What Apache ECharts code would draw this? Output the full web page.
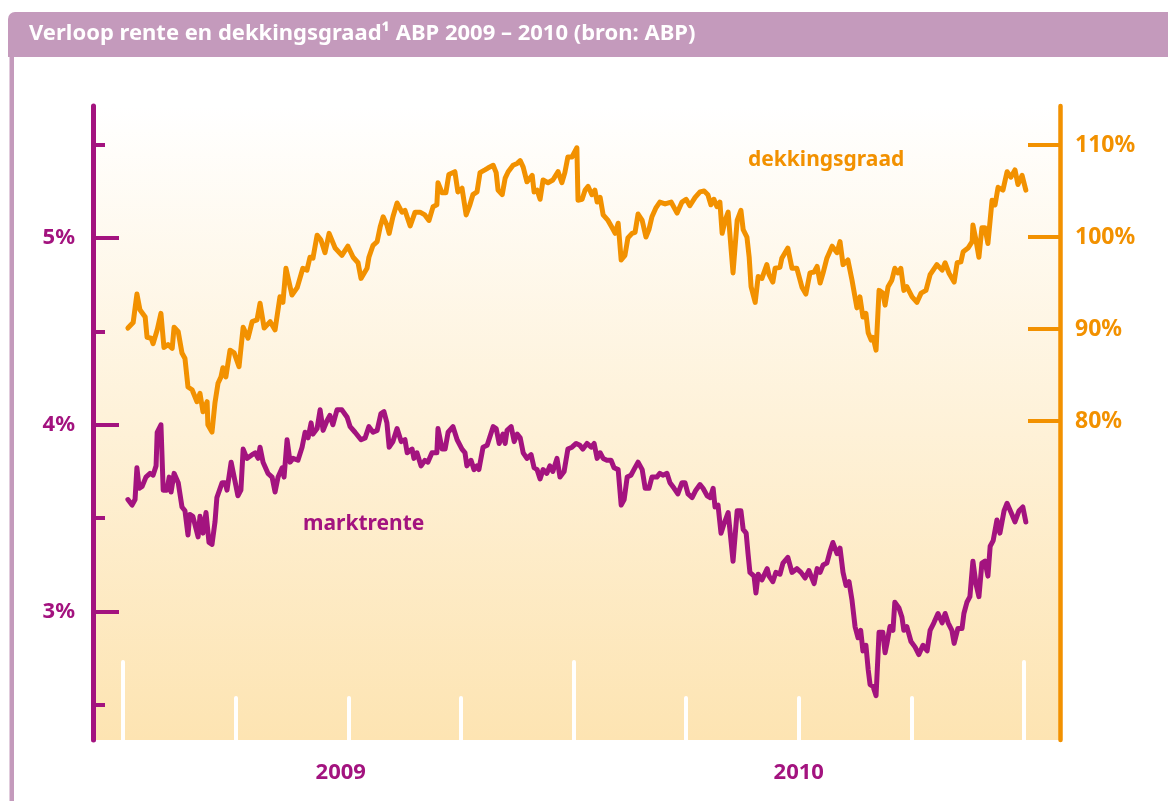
<!DOCTYPE html>
<html>
<head>
<meta charset="utf-8">
<title>Verloop rente en dekkingsgraad ABP 2009 - 2010</title>
<script src="https://cdn.jsdelivr.net/npm/echarts@6/dist/echarts.min.js"></script>
<style>
  html, body { margin: 0; padding: 0; background: #ffffff; }
  #chart { width: 1168px; height: 801px; }
</style>
</head>
<body>
<div id="chart"></div>
<script>
// x = maanden sinds 1 januari 2009
const dekkingMaanden = [
  0.13,0.27,0.37,0.45,0.59,0.64,0.75,0.80,0.91,1.01,
  1.09,1.20,1.31,1.36,1.47,1.57,1.65,1.73,1.84,1.97,
  2.05,2.13,2.24,2.26,2.37,2.45,2.53,2.61,2.66,2.74,
  2.85,2.96,3.09,3.20,3.33,3.44,3.57,3.65,3.76,3.92,
  4.05,4.18,4.26,4.34,4.50,4.64,4.74,4.79,4.90,4.98,
  5.06,5.17,5.27,5.38,5.49,5.65,5.83,5.99,6.13,6.26,
  6.34,6.50,6.55,6.66,6.77,6.85,6.93,7.03,7.09,7.19,
  7.30,7.43,7.51,7.65,7.78,7.91,8.04,8.15,8.26,8.36,
  8.39,8.50,8.60,8.68,8.84,8.92,9.03,9.14,9.24,9.32,
  9.43,9.51,9.64,9.72,9.86,9.94,9.99,10.10,10.18,10.26,
  10.39,10.50,10.58,10.66,10.76,10.90,10.95,11.03,11.11,11.19,
  11.32,11.45,11.59,11.69,11.77,11.85,11.96,12.09,12.12,12.23,
  12.31,12.39,12.49,12.57,12.63,12.71,12.79,12.92,13.03,13.11,
  13.19,13.27,13.37,13.45,13.56,13.64,13.72,13.83,13.93,14.01,
  14.09,14.20,14.30,14.44,14.60,14.76,14.89,15.00,15.10,15.24,
  15.37,15.48,15.58,15.66,15.74,15.82,15.90,15.96,16.04,16.12,
  16.20,16.25,16.36,16.46,16.52,16.62,16.68,16.73,16.84,16.92,
  17.02,17.15,17.21,17.31,17.37,17.50,17.55,17.71,17.82,17.95,
  18.09,18.19,18.30,18.41,18.49,18.57,18.65,18.75,18.89,19.02,
  19.10,19.18,19.31,19.42,19.55,19.63,19.71,19.79,19.85,19.93,
  19.98,20.06,20.14,20.24,20.30,20.38,20.48,20.56,20.64,20.72,
  20.80,20.88,21.02,21.15,21.26,21.39,21.50,21.68,21.82,21.90,
  22.00,22.14,22.22,22.32,22.38,22.51,22.62,22.64,22.72,22.80,
  22.88,22.96,23.04,23.15,23.23,23.31,23.44,23.55,23.65,23.76,
  23.84,23.95,24.05
];
const dekkingsgraad = [
  90.1,90.7,93.8,92.1,91.3,89.1,89.0,88.4,89.9,91.7,
  88.0,88.3,87.9,90.2,89.7,87.4,86.8,83.7,83.4,82.1,
  83.0,81.0,82.1,79.6,78.8,82.0,84.1,84.8,85.8,84.8,
  87.7,87.4,85.9,90.2,89.0,90.8,91.0,92.8,90.1,90.8,
  89.9,93.5,92.9,96.6,93.7,94.5,95.9,96.6,96.4,97.8,
  97.7,100.2,99.7,98.3,100.4,98.8,98.0,99.0,97.8,97.2,
  95.5,96.6,97.8,99.1,99.5,101.1,102.2,101.3,100.4,102.2,
  103.7,102.7,102.9,101.2,102.7,102.7,102.4,101.8,103.3,103.5,
  105.9,104.8,104.8,106.8,107.1,104.9,105.3,102.4,103.5,104.6,
  104.9,107.0,107.3,107.5,107.8,107.0,105.1,104.6,106.4,107.1,
  107.8,108.0,108.3,107.6,106.0,106.7,104.9,105.1,104.1,106.2,
  105.9,106.2,107.1,105.9,107.0,108.7,108.7,109.7,104.0,104.1,
  105.1,105.5,104.6,105.1,103.8,104.3,102.4,101.8,101.0,100.4,
  101.5,97.5,98.0,99.9,100.4,100.5,102.5,101.8,100.0,100.8,
  102.2,103.2,103.8,103.6,103.8,102.6,103.8,104.1,103.4,104.3,
  104.9,105.0,104.6,103.5,104.1,103.3,103.8,100.4,101.8,102.7,
  98.6,96.1,101.8,102.9,100.8,100.0,97.8,94.6,92.9,95.7,
  95.5,97.0,95.9,95.1,96.6,96.7,97.7,98.8,96.6,96.6,
  94.5,93.8,96.1,96.2,96.8,95.0,96.1,97.7,99.0,98.3,
  99.5,97.0,97.5,95.3,92.3,93.5,91.3,91.7,89.6,88.8,
  89.1,87.7,94.2,93.9,92.6,94.6,95.3,96.6,96.1,96.6,
  94.2,94.6,93.5,92.9,93.9,94.2,95.9,97.0,96.4,97.2,
  96.1,95.1,97.2,97.3,98.4,98.8,99.5,101.3,99.7,97.8,
  101.0,101.0,99.3,104.0,103.5,105.4,105.1,107.1,106.5,107.3,
  105.7,106.7,105.1
];

const renteMaanden = [
  0.13,0.24,0.32,0.37,0.43,0.51,0.61,0.72,0.80,0.88,
  0.91,1.01,1.07,1.17,1.23,1.28,1.36,1.47,1.57,1.65,
  1.73,1.78,1.86,2.00,2.05,2.13,2.21,2.29,2.37,2.45,
  2.50,2.64,2.72,2.77,2.88,2.98,3.06,3.14,3.20,3.30,
  3.44,3.52,3.60,3.65,3.73,3.86,3.97,4.05,4.13,4.24,
  4.29,4.37,4.45,4.53,4.66,4.77,4.85,4.93,5.01,5.06,
  5.17,5.25,5.33,5.43,5.51,5.59,5.70,5.83,5.97,6.05,
  6.18,6.34,6.45,6.55,6.66,6.77,6.87,6.95,7.03,7.09,
  7.19,7.30,7.41,7.51,7.57,7.70,7.75,7.83,7.94,8.04,
  8.12,8.23,8.36,8.39,8.50,8.58,8.66,8.79,8.90,9.03,
  9.11,9.16,9.27,9.35,9.43,9.48,9.59,9.70,9.75,9.86,
  9.94,10.02,10.12,10.18,10.23,10.34,10.42,10.50,10.58,10.66,
  10.76,10.87,10.95,11.03,11.11,11.19,11.29,11.37,11.45,11.56,
  11.64,11.75,11.85,11.96,12.07,12.17,12.25,12.36,12.47,12.55,
  12.63,12.71,12.79,12.89,13.00,13.08,13.19,13.27,13.35,13.43,
  13.53,13.61,13.72,13.83,13.91,14.01,14.09,14.22,14.30,14.38,
  14.49,14.57,14.68,14.78,14.89,14.97,15.05,15.16,15.26,15.37,
  15.45,15.56,15.64,15.72,15.77,15.85,15.93,16.01,16.12,16.20,
  16.25,16.36,16.46,16.52,16.60,16.65,16.70,16.81,16.86,16.92,
  17.02,17.16,17.21,17.31,17.39,17.50,17.58,17.71,17.82,17.95,
  18.06,18.17,18.27,18.41,18.49,18.57,18.65,18.75,18.83,18.91,
  19.02,19.10,19.18,19.26,19.34,19.42,19.50,19.58,19.65,19.71,
  19.79,19.85,19.90,19.98,20.06,20.14,20.24,20.30,20.35,20.43,
  20.51,20.56,20.67,20.75,20.80,20.88,20.99,21.10,21.20,21.31,
  21.42,21.50,21.60,21.71,21.82,21.90,21.98,22.08,22.14,22.24,
  22.35,22.40,22.48,22.56,22.64,22.72,22.80,22.88,22.96,23.04,
  23.10,23.18,23.28,23.36,23.47,23.55,23.68,23.76,23.87,23.97,
  24.05
];
const marktrente = [
  3.60,3.57,3.60,3.77,3.66,3.67,3.72,3.74,3.73,3.78,
  3.96,4.00,3.65,3.65,3.72,3.64,3.74,3.69,3.56,3.54,
  3.41,3.52,3.51,3.40,3.51,3.42,3.53,3.37,3.36,3.48,
  3.61,3.69,3.69,3.65,3.80,3.70,3.62,3.65,3.87,3.82,
  3.84,3.85,3.82,3.88,3.80,3.74,3.72,3.64,3.72,3.77,
  3.72,3.92,3.80,3.82,3.81,3.88,3.96,3.93,4.01,3.95,
  3.98,4.08,3.97,4.02,4.05,4.00,4.08,4.08,4.04,3.99,
  3.96,3.92,3.93,3.99,3.96,3.97,4.06,4.07,4.01,3.88,
  3.91,3.98,3.91,3.92,3.85,3.87,3.82,3.85,3.78,3.81,
  3.80,3.85,3.85,3.98,3.87,3.87,3.96,3.99,3.92,3.87,
  3.85,3.78,3.81,3.76,3.78,3.76,3.88,3.89,3.88,3.99,
  3.98,3.90,3.95,3.90,3.97,3.99,3.91,3.95,3.93,3.85,
  3.82,3.84,3.77,3.76,3.71,3.76,3.74,3.78,3.75,3.82,
  3.72,3.75,3.87,3.88,3.90,3.89,3.87,3.90,3.88,3.90,
  3.82,3.85,3.82,3.81,3.81,3.77,3.76,3.57,3.60,3.72,
  3.73,3.76,3.80,3.76,3.66,3.66,3.72,3.72,3.74,3.73,
  3.74,3.69,3.66,3.63,3.69,3.69,3.63,3.61,3.65,3.68,
  3.66,3.62,3.61,3.66,3.56,3.57,3.42,3.47,3.53,3.37,
  3.27,3.54,3.54,3.44,3.42,3.31,3.21,3.19,3.10,3.20,
  3.17,3.23,3.19,3.16,3.21,3.20,3.26,3.29,3.21,3.23,
  3.21,3.18,3.22,3.15,3.23,3.21,3.25,3.26,3.32,3.37,
  3.31,3.34,3.21,3.14,3.16,3.06,2.92,2.86,2.90,2.79,
  2.82,2.69,2.61,2.60,2.55,2.89,2.89,2.78,2.83,2.92,
  2.90,3.05,3.02,2.97,2.90,2.92,2.84,2.81,2.77,2.82,
  2.79,2.90,2.94,2.99,2.94,2.99,2.94,2.90,2.83,2.91,
  2.91,2.99,3.05,3.08,3.27,3.15,3.08,3.26,3.27,3.19,
  3.35,3.38,3.49,3.42,3.54,3.58,3.52,3.48,3.54,3.56,
  3.48
];

// as-indeling
const jaarGrenzen = [0, 12, 24];
const kwartalen = [3, 6, 9, 15, 18, 21];
const jaarLabels = ['2009', '2010'];
const jaarLabelPos = [5.8, 18];
const renteLabels = [3, 4, 5];
const renteTussen = [2.5, 3.5, 4.5, 5.5];
const dekkingLabels = [80, 90, 100, 110];

const PAARS = '#a3137f';
const ORANJE = '#f29100';
const BALK = '#c49abc';
const FONT = '"Noto Sans", sans-serif';

const zip = (xs, ys) => xs.map((x, i) => [x, ys[i]]);

const chart = echarts.init(document.getElementById('chart'));

const xBasis = { type: 'value', min: -0.8, max: 24.96, position: 'bottom',
  axisLine: { show: false, onZero: false }, splitLine: { show: false } };
const yRente = { min: 2.313, max: 5.706 };

chart.setOption({
  animation: false,
  backgroundColor: '#ffffff',
  title: {
    text: 'Verloop rente en dekkingsgraad¹ ABP 2009 – 2010 (bron: ABP)',
    left: 29, top: 23,
    padding: 0,
    textStyle: { color: '#ffffff', fontFamily: FONT, fontWeight: 'bold', fontSize: 22 }
  },
  graphic: [
    { type: 'rect', z: -1, shape: { x: 8, y: 12, width: 1170, height: 45, r: [7, 0, 0, 0] },
      style: { fill: BALK } },
    { type: 'rect', z: -1, shape: { x: 9.5, y: 50, width: 4.5, height: 760 },
      style: { fill: BALK } },
    { type: 'text', x: 748, y: 160, z: 10,
      style: { text: 'dekkingsgraad', fill: ORANJE, font: 'bold 21px ' + FONT, verticalAlign: 'middle' } },
    { type: 'text', x: 303, y: 524, z: 10,
      style: { text: 'marktrente', fill: PAARS, font: 'bold 21px ' + FONT, verticalAlign: 'middle' } }
  ],
  grid: {
    left: 93, right: 108, top: 106, bottom: 61,
    show: true, borderWidth: 0,
    backgroundColor: {
      type: 'linear', x: 0, y: 0, x2: 0, y2: 1,
      colorStops: [
        { offset: 0, color: '#ffffff' },
        { offset: 1, color: '#fde4b2' }
      ]
    }
  },
  xAxis: [
    Object.assign({}, xBasis, {
      axisTick: { show: true, inside: true, length: 78, customValues: jaarGrenzen,
        lineStyle: { color: '#ffffff', width: 4, cap: 'round' } },
      axisLabel: { show: true, customValues: jaarLabelPos, margin: 22,
        color: PAARS, fontFamily: FONT, fontWeight: 'bold', fontSize: 22,
        formatter: (v) => jaarLabels[jaarLabelPos.indexOf(v)] }
    }),
    Object.assign({}, xBasis, {
      axisTick: { show: true, inside: true, length: 42, customValues: kwartalen,
        lineStyle: { color: '#ffffff', width: 4, cap: 'round' } },
      axisLabel: { show: false }
    })
  ],
  yAxis: [
    Object.assign({ type: 'value', position: 'left' }, yRente, {
      axisLine: { show: true, onZero: false, lineStyle: { color: PAARS, width: 5 } },
      axisTick: { show: true, inside: true, length: 26, customValues: renteLabels,
        lineStyle: { color: PAARS, width: 4 } },
      axisLabel: { show: true, customValues: renteLabels, margin: 18,
        color: PAARS, fontFamily: FONT, fontWeight: 'bold', fontSize: 22,
        formatter: (v) => v + '%' },
      splitLine: { show: false }
    }),
    Object.assign({ type: 'value', position: 'left' }, yRente, {
      axisLine: { show: false, onZero: false },
      axisTick: { show: true, inside: true, length: 12, customValues: renteTussen,
        lineStyle: { color: PAARS, width: 4 } },
      axisLabel: { show: false },
      splitLine: { show: false }
    }),
    {
      type: 'value', position: 'right', min: 45.33, max: 114.24,
      axisLine: { show: true, onZero: false, lineStyle: { color: ORANJE, width: 4.5 } },
      axisTick: { show: true, inside: true, length: 32, customValues: dekkingLabels,
        lineStyle: { color: ORANJE, width: 4 } },
      axisLabel: { show: true, customValues: dekkingLabels, margin: 15,
        color: ORANJE, fontFamily: FONT, fontWeight: 'bold', fontSize: 23,
        formatter: (v) => v + '%' },
      splitLine: { show: false }
    }
  ],
  series: [
    {
      name: 'marktrente', type: 'line', xAxisIndex: 0, yAxisIndex: 0,
      data: zip(renteMaanden, marktrente),
      showSymbol: false, symbol: 'none',
      lineStyle: { color: PAARS, width: 5, join: 'round', cap: 'round' }
    },
    {
      name: 'dekkingsgraad', type: 'line', xAxisIndex: 0, yAxisIndex: 2,
      data: zip(dekkingMaanden, dekkingsgraad),
      showSymbol: false, symbol: 'none',
      lineStyle: { color: ORANJE, width: 5, join: 'round', cap: 'round' }
    }
  ]
});
</script>
</body>
</html>
